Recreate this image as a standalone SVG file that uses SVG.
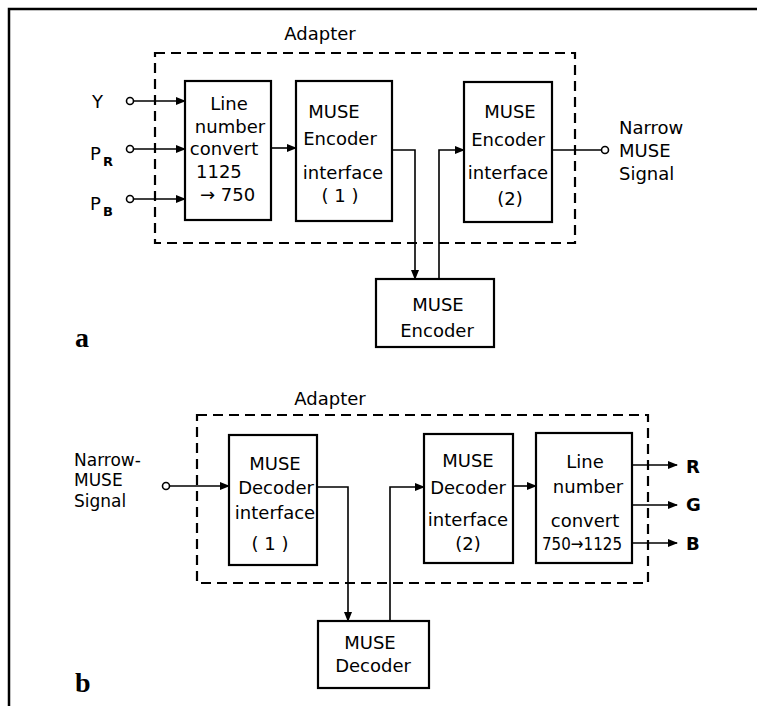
<svg xmlns="http://www.w3.org/2000/svg" width="757" height="706" viewBox="0 0 757 706">
<style>
.box{fill:none;stroke:#000;stroke-width:2.2}
.dash{fill:none;stroke:#000;stroke-width:2.2;stroke-dasharray:10,6}
.c{fill:none;stroke:#000;stroke-width:1.6}
.pin{fill:#fff;stroke:#000;stroke-width:1.6}
text{font-family:"DejaVu Sans","Liberation Sans",sans-serif;font-size:18px;fill:#000}
.m{text-anchor:middle}
.lbl{font-family:"Liberation Serif",serif;font-weight:bold;font-size:28px}
.rgb{font-weight:bold}
.sub{font-size:13px;font-weight:bold}
.sm{font-size:17px}
</style>
<defs>
<marker id="ah" markerWidth="10" markerHeight="8" refX="9" refY="4" orient="auto" markerUnits="userSpaceOnUse">
<path d="M0,0 L10,4 L0,8 z" fill="#000"/>
</marker>
</defs>
<rect width="757" height="706" fill="#fff"/>
<g id="frame"><path d="M9,706 L9,9 L757,9" fill="none" stroke="#000" stroke-width="2.5"/></g>

<g id="panel-a">
<g id="adapter-a"><rect class="dash" x="155" y="53" width="420" height="190"/><text class="m" x="320" y="40">Adapter</text></g>
<g id="in-Y"><text x="92" y="108">Y</text></g>
<g id="in-PR"><text x="90" y="160">P</text><text class="sub" x="103" y="166">R</text></g>
<g id="in-PB"><text x="90" y="210">P</text><text class="sub" x="103" y="216">B</text></g>
<g id="lineconv-a"><rect class="box" x="185" y="81" width="86" height="139"/>
<text class="m" x="229" y="110">Line</text>
<text class="m" x="230" y="133">number</text>
<text class="m" x="224" y="155">convert</text>
<text x="196" y="178">1125</text>
<text x="200" y="201">→ 750</text></g>
<g id="enc-if1"><rect class="box" x="296" y="81" width="96" height="140"/>
<text class="m" x="334" y="118">MUSE</text>
<text class="m" x="340" y="145">Encoder</text>
<text class="m" x="343" y="179">interface</text>
<text class="m" x="340" y="202">( 1 )</text></g>
<g id="enc-if2"><rect class="box" x="464" y="82" width="88" height="140"/>
<text class="m" x="510" y="118">MUSE</text>
<text class="m" x="508" y="146">Encoder</text>
<text class="m" x="508" y="179">interface</text>
<text class="m" x="510" y="205">(2)</text></g>
<g id="out-a"><text x="619" y="134">Narrow</text><text x="619" y="157">MUSE</text><text x="619" y="180">Signal</text></g>
<g id="encoder"><rect class="box" x="376" y="279" width="118" height="68"/>
<text class="m" x="438" y="311">MUSE</text>
<text class="m" x="437" y="337">Encoder</text></g>
<text class="lbl" x="75" y="347">a</text>
</g>

<g id="panel-b">
<g id="adapter-b"><rect class="dash" x="197" y="415" width="451" height="168"/><text class="m" x="330" y="405">Adapter</text></g>
<g id="in-b"><text class="sm" x="74" y="466">Narrow-</text><text class="sm" x="74" y="486">MUSE</text><text class="sm" x="74" y="507">Signal</text></g>
<g id="dec-if1"><rect class="box" x="229" y="435" width="88" height="130"/>
<text class="m" x="275" y="470">MUSE</text>
<text class="m" x="276" y="494">Decoder</text>
<text class="m" x="275" y="519">interface</text>
<text class="m" x="270" y="550">( 1 )</text></g>
<g id="dec-if2"><rect class="box" x="424" y="434" width="89" height="129"/>
<text class="m" x="468" y="467">MUSE</text>
<text class="m" x="468" y="494">Decoder</text>
<text class="m" x="468" y="526">interface</text>
<text class="m" x="468" y="550">(2)</text></g>
<g id="lineconv-b"><rect class="box" x="536" y="433" width="96" height="130"/>
<text class="m" x="585" y="468">Line</text>
<text class="m" x="588" y="493">number</text>
<text class="m" x="585" y="527">convert</text>
<text x="542" y="550" textLength="80" lengthAdjust="spacingAndGlyphs">750→1125</text></g>
<g id="decoder"><rect class="box" x="318" y="621" width="111" height="67"/>
<text class="m" x="370" y="649">MUSE</text>
<text class="m" x="373" y="672">Decoder</text></g>
<g id="out-R"><text class="rgb" x="686" y="473">R</text></g>
<g id="out-G"><text class="rgb" x="686" y="511">G</text></g>
<g id="out-B"><text class="rgb" x="686" y="550">B</text></g>
<text class="lbl" x="75" y="692">b</text>
</g>

<g id="connectors">
<circle class="pin" cx="130" cy="101" r="3.5"/>
<circle class="pin" cx="130" cy="149" r="3.5"/>
<circle class="pin" cx="130" cy="199" r="3.5"/>
<path class="c" d="M133.5,101 H185" marker-end="url(#ah)"/>
<path class="c" d="M133.5,149 H185" marker-end="url(#ah)"/>
<path class="c" d="M133.5,199 H185" marker-end="url(#ah)"/>
<path class="c" d="M271,148 H296" marker-end="url(#ah)"/>
<path class="c" d="M392,150 H415 V279" marker-end="url(#ah)"/>
<path class="c" d="M439,279 V150 H464" marker-end="url(#ah)"/>
<path class="c" d="M552,150 H601.5"/>
<circle class="pin" cx="605" cy="150" r="3.5"/>

<circle class="pin" cx="166" cy="486" r="3.5"/>
<path class="c" d="M169.5,486 H229" marker-end="url(#ah)"/>
<path class="c" d="M317,487 H348 V621" marker-end="url(#ah)"/>
<path class="c" d="M390,621 V487 H424" marker-end="url(#ah)"/>
<path class="c" d="M513,486 H536" marker-end="url(#ah)"/>
<path class="c" d="M632,465 H677" marker-end="url(#ah)"/>
<path class="c" d="M632,505 H677" marker-end="url(#ah)"/>
<path class="c" d="M632,543 H677" marker-end="url(#ah)"/>
</g>
</svg>
